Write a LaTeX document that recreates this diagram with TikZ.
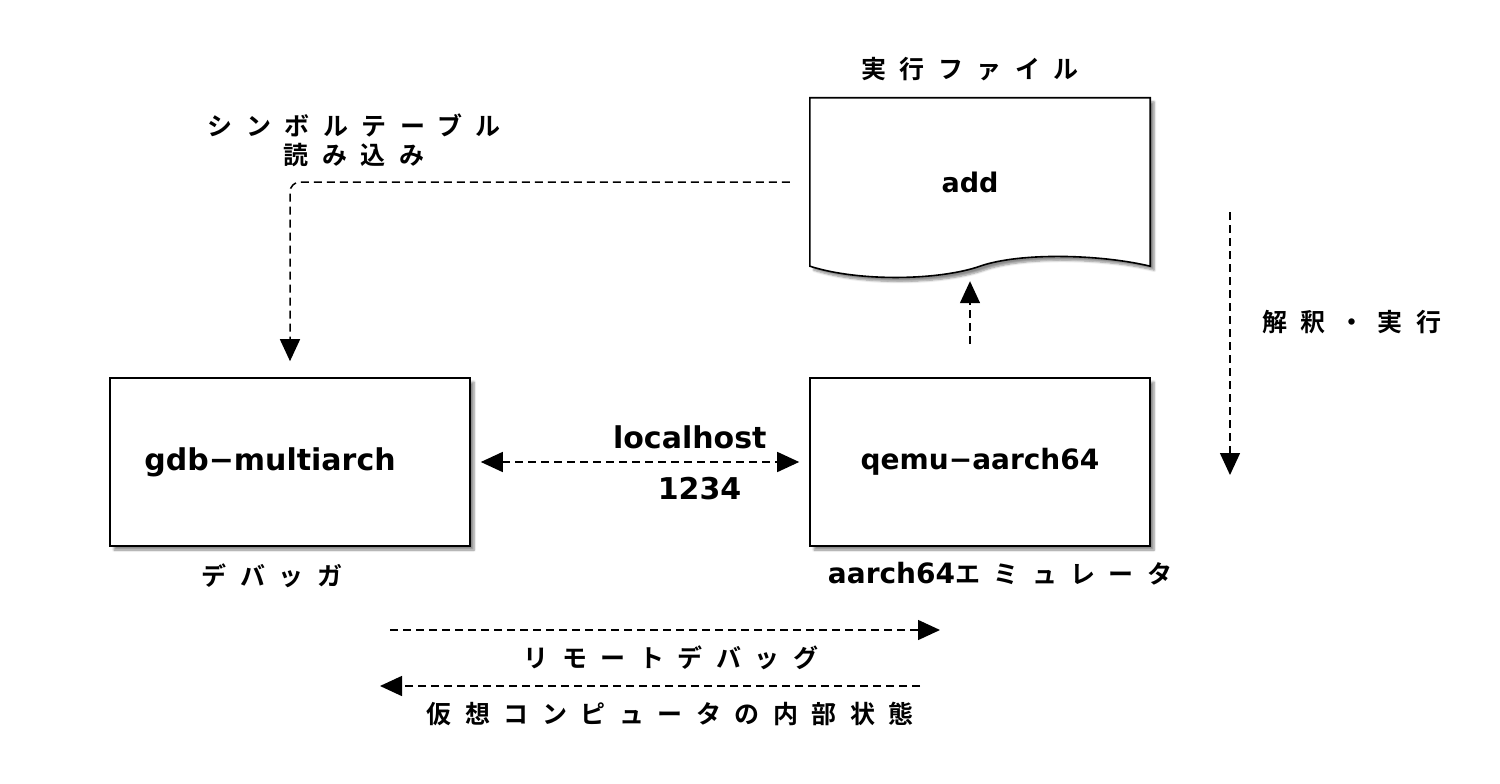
\documentclass[tikz,border=0pt]{standalone}
\usepackage{fontspec}
\setmainfont{DejaVu Sans}
\newfontfamily\jpfont[LetterSpace=54]{Noto Sans CJK JP Bold}
\usetikzlibrary{arrows.meta, calc, positioning, shadows.blur, backgrounds}

\begin{document}
\begin{tikzpicture}[x=1pt, y=-1pt,
        box/.style={draw, line width=1.6pt, fill=white, minimum width=360pt, minimum height=168pt,
            blur shadow={shadow xshift=4pt, shadow yshift=-4pt, shadow blur steps=6, shadow opacity=45}},
        en/.style={font=\bfseries\fontsize{28}{32}\selectfont},
        big/.style={font=\bfseries\fontsize{30}{34}\selectfont},
        jp/.style={font=\jpfont\fontsize{25}{29}\selectfont, align=center, xshift=6pt},
        link/.style={line width=1.5pt, dash pattern=on 8pt off 5pt, -{Triangle[length=22pt, width=20pt]}},
        both/.style={link, {Triangle[length=22pt, width=20pt]}-{Triangle[length=22pt, width=20pt]}}
    ]
    \useasboundingbox (0,0) rectangle (1500,784);

    \node[box, big] (gdb) at (290,462) {gdb−multiarch\hspace*{40pt}};
    \node[box, en, minimum width=340pt] (qemu) at (980,462) {qemu−aarch64};

    % executable file (document shape)
    \node[en, font=\bfseries\fontsize{27}{32}\selectfont, minimum width=340pt, minimum height=168pt] (file) at (980,182) {add\hspace*{20pt}};
    \begin{scope}[on background layer]
        \path[draw, line width=1.6pt, fill=white,
              blur shadow={shadow xshift=4pt, shadow yshift=-4pt, shadow blur steps=6, shadow opacity=45}]
            (file.north west) -- (file.north east) -- (file.south east)
            .. controls ($(file.south east)+(-50,-12)$) and ($(file.south)+(40,-14)$) .. (file.south)
            .. controls ($(file.south)+(-40,14)$) and ($(file.south west)+(50,16)$) .. (file.south west)
            -- cycle;
    \end{scope}

    % labels
    \node[jp, above=13pt of file, xshift=-16pt] (filelabel) {実行ファイル};
    \node[jp, below=13pt of gdb, xshift=-24pt] (gdblabel) {デバッガ};
    \node[jp, below=12pt of qemu, xshift=14pt] (qemulabel) {{\rmfamily\bfseries\fontsize{28}{32}\selectfont aarch64}エミュレータ};
    \node[jp] (symlabel) at (348,140) {シンボルテーブル\\読み込み};

    % connectors
    \draw[link, rounded corners=10pt, shorten <=20pt, shorten >=16pt] (file.west) -| (gdb.north);
    \draw[both, shorten <=10pt, shorten >=10pt] (gdb.east) --
        node[big, pos=0.647, above=9pt] (host) {localhost}
        node[big, pos=0.676, below=11pt] (port) {1234} (qemu.west);
    \draw[link, shorten <=33pt, shorten >=15pt] ($(qemu.north)+(-10,0)$) -- ($(file.south)+(-10,0)$);

    \coordinate (runtop) at (1230,212);
    \coordinate (runend) at (1230,475);
    \draw[link] (runtop) -- node[jp, pos=0.42, right=22pt] (runlabel) {解釈・実行} (runend);

    % remote debugging
    \coordinate (reqstart) at (390,630);
    \coordinate (reqend) at (940,630);
    \draw[link] (reqstart) -- node[jp, below=12pt] (reqlabel) {リモートデバッグ} (reqend);
    \coordinate (statestart) at (920,686);
    \coordinate (stateend) at (380,686);
    \draw[link] (statestart) -- node[jp, below=12pt, xshift=14pt] (statelabel) {仮想コンピュータの内部状態} (stateend);

\end{tikzpicture}
\end{document}
